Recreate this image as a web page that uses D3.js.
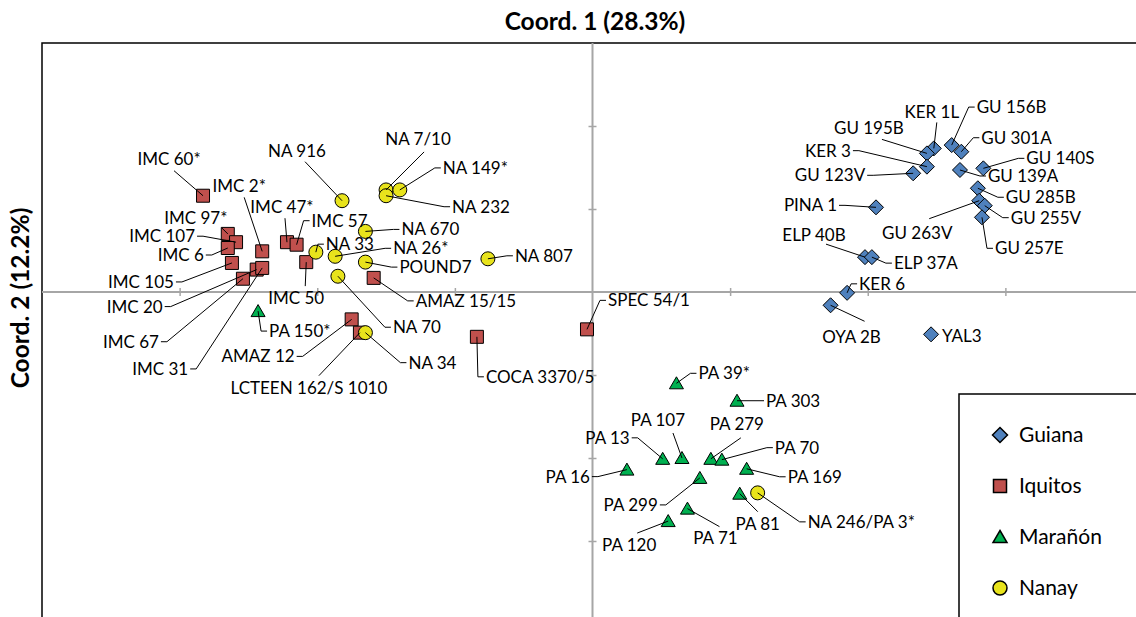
<!DOCTYPE html>
<html>
<head>
<meta charset="utf-8">
<script src="https://cdn.jsdelivr.net/npm/d3@7"></script>
<style>
body { margin: 0; background: #fff; }
svg { display: block; }
text { font-family: Lato, "Open Sans", sans-serif; fill: #000; }
</style>
</head>
<body>
<script>
// groups (legend order)
var groups = ['Guiana', 'Iquitos', 'Marañón', 'Nanay']

// sample names, coords and group per series
var guianaNames = ['KER 1L', 'GU 195B', 'GU 156B', 'GU 301A', 'KER 3', 'GU 123V', 'GU 140S', 'GU 139A', 'GU 285B', 'GU 263V', 'GU 255V', 'GU 257E', 'PINA 1', 'ELP 40B', 'ELP 37A', 'KER 6', 'OYA 2B', 'YAL3']
var guianaX = [0.248, 0.243, 0.261, 0.268, 0.243, 0.233, 0.284, 0.267, 0.280, 0.281, 0.285, 0.283, 0.206, 0.198, 0.203, 0.185, 0.173, 0.246]
var guianaY = [0.173, 0.167, 0.177, 0.169, 0.151, 0.143, 0.149, 0.147, 0.125, 0.110, 0.104, 0.090, 0.102, 0.042, 0.042, -0.001, -0.016, -0.051]

var iquitosNames = ['IMC 60*', 'IMC 2*', 'IMC 97*', 'IMC 107', 'IMC 6', 'IMC 105', 'IMC 20', 'IMC 67', 'IMC 31', 'IMC 47*', 'IMC 57', 'IMC 50', 'AMAZ 12', 'LCTEEN 162/S 1010', 'AMAZ 15/15', 'COCA 3370/5', 'SPEC 54/1']
var iquitosX = [-0.283, -0.240, -0.265, -0.259, -0.265, -0.262, -0.244, -0.254, -0.240, -0.222, -0.215, -0.208, -0.175, -0.169, -0.159, -0.084, -0.004]
var iquitosY = [0.116, 0.049, 0.070, 0.060, 0.053, 0.035, 0.027, 0.016, 0.029, 0.060, 0.057, 0.036, -0.033, -0.049, 0.017, -0.054, -0.045]

var maranonNames = ['PA 150*', 'PA 39*', 'PA 303', 'PA 107', 'PA 279', 'PA 13', 'PA 70', 'PA 16', 'PA 169', 'PA 299', 'PA 81', 'PA 71', 'PA 120']
var maranonX = [-0.243, 0.061, 0.105, 0.065, 0.086, 0.051, 0.094, 0.025, 0.112, 0.078, 0.107, 0.069, 0.055]
var maranonY = [-0.023, -0.110, -0.131, -0.200, -0.201, -0.201, -0.202, -0.214, -0.213, -0.224, -0.243, -0.261, -0.276]

var nanayNames = ['NA 33', 'NA 916', 'NA 7/10', 'NA 149*', 'NA 232', 'NA 670', 'NA 26*', 'POUND7', 'NA 807', 'NA 70', 'NA 34', 'NA 246/PA 3*']
var nanayX = [-0.201, -0.182, -0.150, -0.140, -0.150, -0.165, -0.187, -0.165, -0.076, -0.185, -0.165, 0.120]
var nanayY = [0.048, 0.110, 0.123, 0.123, 0.116, 0.073, 0.043, 0.036, 0.040, 0.019, -0.049, -0.242]

var xTicks = [-0.3, -0.2, -0.1, 0.1, 0.2, 0.3]
var yTicks = [-0.3, -0.2, -0.1, 0.1, 0.2]

// label placement: [dx, dy, anchor, leader end dx, leader end dy] in px from the marker
var labelLayout = {
  'KER 1L': [-2, -36, 'middle', 3, -26], 'GU 195B': [-58, -25, 'middle', -45, -14],
  'GU 156B': [25, -38, 'start'], 'GU 301A': [20, -14, 'start'], 'KER 3': [-76, -16, 'end'],
  'GU 123V': [-48, 2, 'end'], 'GU 140S': [43, -10, 'start'], 'GU 139A': [28, 6, 'start'],
  'GU 285B': [28, 9, 'start'], 'GU 263V': [-62, 32, 'middle', -50, 18], 'GU 255V': [26, 12, 'start'],
  'GU 257E': [13, 31, 'start'], 'PINA 1': [-39, -2, 'end'], 'ELP 40B': [-51, -22, 'middle', -39, -13],
  'ELP 37A': [22, 6, 'start'], 'KER 6': [12, -9, 'start'], 'OYA 2B': [21, 32, 'middle', 34, 16],
  'YAL3': [11, 2, 'none'],
  'IMC 60*': [-34, -37, 'middle', -29, -25], 'IMC 2*': [-23, -65, 'middle', -18, -54],
  'IMC 97*': [-32, -16, 'middle', -6, -6], 'IMC 107': [-41, -6, 'end'], 'IMC 6': [-24, 7, 'end'],
  'IMC 105': [-58, 19, 'end'], 'IMC 20': [-94, 37, 'end'], 'IMC 67': [-84, 63, 'end'],
  'IMC 31': [-74, 101, 'end'], 'IMC 47*': [-5, -35, 'middle', -2, -24], 'IMC 57': [15, -24, 'start'],
  'IMC 50': [-10, 36, 'middle', -1, 24], 'AMAZ 12': [-57, 37, 'end'],
  'LCTEEN 162/S 1010': [-51, 55, 'middle', -41, 43], 'AMAZ 15/15': [42, 23, 'start'],
  'COCA 3370/5': [9, 40, 'start'], 'SPEC 54/1': [21, -29, 'start'],
  'PA 150*': [11, 20, 'start'], 'PA 39*': [22, -10, 'start'], 'PA 303': [29, 0, 'start'],
  'PA 107': [-24, -38, 'middle', -9, -25], 'PA 279': [26, -35, 'middle', 30, -21],
  'PA 13': [-33, -21, 'end'], 'PA 70': [53, -12, 'start'], 'PA 16': [-37, 7, 'end'],
  'PA 169': [41, 8, 'start'], 'PA 299': [-42, 27, 'end'], 'PA 81': [18, 30, 'middle', 18, 18],
  'PA 71': [28, 29, 'middle', 32, 18], 'PA 120': [-39, 24, 'middle', -31, 12],
  'NA 33': [10, -8, 'start'], 'NA 916': [-45, -50, 'middle', -37, -39],
  'NA 7/10': [32, -51, 'middle', 38, -38], 'NA 149*': [43, -22, 'start'], 'NA 232': [66, 11, 'start'],
  'NA 670': [36, -2, 'start'], 'NA 26*': [58, -8, 'start'], 'POUND7': [34, 5, 'start'],
  'NA 807': [27, -3, 'start'], 'NA 70': [55, 51, 'start'], 'NA 34': [43, 30, 'start'],
  'NA 246/PA 3*': [50, 29, 'start']
}

var colors = {'Guiana': '#4f81bd', 'Iquitos': '#c0504d', 'Marañón': '#00b050', 'Nanay': '#e8e31c'}
var shapes = {
  'Guiana': 'M0,-7.5L7.5,0L0,7.5L-7.5,0Z',
  'Iquitos': 'M-6.5,-6.5H6.5V6.5H-6.5Z',
  'Marañón': 'M0,-6.5L7,5.5H-7Z',
  'Nanay': 'M7,0A7,7 0 1,1 -7,0A7,7 0 1,1 7,0Z'
}

function build(names, xs, ys, g) {
  return names.map(function(n, i) { return {name: n, x: xs[i], y: ys[i], group: g} })
}
var points = [].concat(
  build(guianaNames, guianaX, guianaY, 'Guiana'),
  build(iquitosNames, iquitosX, iquitosY, 'Iquitos'),
  build(maranonNames, maranonX, maranonY, 'Marañón'),
  build(nanayNames, nanayX, nanayY, 'Nanay'))

var svg = d3.select('body').append('svg')
  .attr('width', 1136)
  .attr('height', 617)

var x = d3.scaleLinear().domain([-0.4, 0.4]).range([42, 1143])
var y = d3.scaleLinear().domain([-0.4, 0.3]).range([624, 43])

// frame
svg.append('rect')
  .attr('x', x(-0.4)).attr('y', y(0.3))
  .attr('width', x(0.4) - x(-0.4)).attr('height', y(-0.4) - y(0.3))
  .attr('fill', 'none').attr('stroke', '#000').attr('stroke-width', 1.5)

// zero axes
svg.append('line')
  .attr('x1', x(-0.4)).attr('x2', x(0.4)).attr('y1', y(0)).attr('y2', y(0))
  .attr('stroke', '#a6a6a6').attr('stroke-width', 2)
svg.append('line')
  .attr('x1', x(0)).attr('x2', x(0)).attr('y1', y(0.3)).attr('y2', y(-0.4))
  .attr('stroke', '#a6a6a6').attr('stroke-width', 2)

var xAxis = svg.append('g')
  .attr('transform', 'translate(0,' + (y(0) - 4) + ')')
  .call(d3.axisBottom(x).tickValues(xTicks).tickSize(8).tickFormat(''))
var yAxis = svg.append('g')
  .attr('transform', 'translate(' + (x(0) + 4) + ',0)')
  .call(d3.axisLeft(y).tickValues(yTicks).tickSize(8).tickFormat(''))
svg.selectAll('.domain').remove()
svg.selectAll('.tick line').attr('stroke', '#a6a6a6').attr('stroke-width', 1.5)

// titles
svg.append('text')
  .attr('x', 595).attr('y', 30)
  .attr('text-anchor', 'middle')
  .style('font-weight', 'bold').style('font-size', '24.5px')
  .text('Coord. 1 (28.3%)')
svg.append('text')
  .attr('transform', 'translate(29,298) rotate(-90)')
  .attr('text-anchor', 'middle')
  .style('font-weight', 'bold').style('font-size', '24.5px')
  .text('Coord. 2 (12.2%)')

// markers
svg.append('g').selectAll('path')
  .data(points)
  .enter().append('path')
  .attr('transform', function(d) { return 'translate(' + x(d.x) + ',' + y(d.y) + ')' })
  .attr('d', function(d) { return shapes[d.group] })
  .attr('fill', function(d) { return colors[d.group] })
  .attr('stroke', '#000').attr('stroke-width', 1)

// leader lines
svg.append('g').selectAll('path')
  .data(points.filter(function(d) { return labelLayout[d.name][2] != 'none' }))
  .enter().append('path')
  .attr('fill', 'none').attr('stroke', '#000').attr('stroke-width', 1)
  .attr('d', function(d) {
    var L = labelLayout[d.name], px = x(d.x), py = y(d.y)
    if (L[2] == 'middle') return 'M' + px + ',' + py + 'L' + (px + L[3]) + ',' + (py + L[4])
    var s = L[2] == 'start' ? -1 : 1
    return 'M' + px + ',' + py + 'L' + (px + L[0] + s * 8) + ',' + (py + L[1]) + 'L' + (px + L[0] + s * 2) + ',' + (py + L[1])
  })

// labels
svg.append('g').selectAll('text')
  .data(points)
  .enter().append('text')
  .attr('x', function(d) { return x(d.x) + labelLayout[d.name][0] })
  .attr('y', function(d) { return y(d.y) + labelLayout[d.name][1] })
  .attr('dy', '0.35em')
  .attr('text-anchor', function(d) { var a = labelLayout[d.name][2]; return a == 'none' ? 'start' : a })
  .style('font-size', '17px')
  .text(function(d) { return d.name })

// legend
var legend = svg.append('g')
legend.append('rect')
  .attr('x', 959).attr('y', 394).attr('width', 200).attr('height', 260)
  .attr('fill', '#fff').attr('stroke', '#000').attr('stroke-width', 1.5)
var item = legend.selectAll('g.item')
  .data(groups)
  .enter().append('g')
  .attr('class', 'item')
  .attr('transform', function(d, i) { return 'translate(1000,' + (435 + i * 51) + ')' })
item.append('path')
  .attr('d', function(d) { return shapes[d] })
  .attr('fill', function(d) { return colors[d] })
  .attr('stroke', '#000').attr('stroke-width', 1.5)
item.append('text')
  .attr('x', 19).attr('dy', '0.35em')
  .style('font-size', '21px')
  .text(function(d) { return d })
</script>
</body>
</html>
